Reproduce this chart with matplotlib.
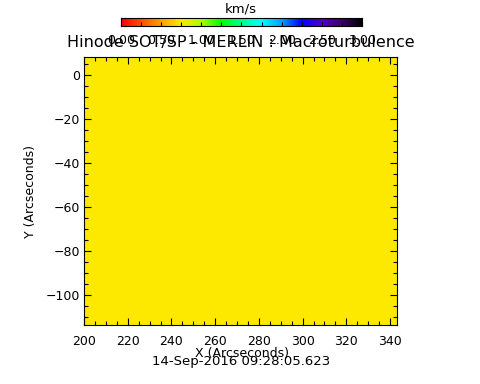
import numpy as np
import matplotlib
matplotlib.use('Agg')
import matplotlib.pyplot as plt
from matplotlib.colors import LinearSegmentedColormap
from matplotlib.ticker import MultipleLocator

# map extent (arcsec) and the (uniform) macroturbulence value in km/s
x_range = [200.0, 343.2]
y_range = [-113.6, 8.2]
macro_value = 0.75
macro_map = np.full((20, 20), macro_value)

# colour table sampled from the colour bar
cbar_vals = [0.0, 0.25, 0.5, 0.75, 1.0, 1.25, 1.5, 1.75, 2.0, 2.25, 2.5, 2.75, 3.0]
cbar_cols = ['#ff0000', '#ff5000', '#ffa000', '#ffe800', '#a8ff00', '#00ff00',
             '#00ff8c', '#00ffff', '#00a0ff', '#0000ff', '#5000c8', '#3c006e', '#000000']
cbar_ticks = [0.0, 0.5, 1.0, 1.5, 2.0, 2.5, 3.0]

title = 'Hinode SOT/SP - MERLIN : Macroturbulence'
date_str = '14-Sep-2016 09:28:05.623'

W, H = 481, 384
cmap = LinearSegmentedColormap.from_list(
    'idl', [(v / 3.0, c) for v, c in zip(cbar_vals, cbar_cols)])

plt.rcParams['font.family'] = 'DejaVu Sans'
plt.rcParams['font.size'] = 9

fig = plt.figure(figsize=(W / 100, H / 100), dpi=100)

ax = fig.add_axes([84 / W, (H - 325) / H, 313 / W, 268 / H])
ax.imshow(macro_map, cmap=cmap, vmin=0, vmax=3, origin='lower', aspect='auto',
          extent=[x_range[0], x_range[1], y_range[0], y_range[1]],
          interpolation='nearest')
ax.set_xlim(x_range)
ax.set_ylim(y_range)
ax.xaxis.set_major_locator(MultipleLocator(20))
ax.xaxis.set_minor_locator(MultipleLocator(5))
ax.yaxis.set_major_locator(MultipleLocator(20))
ax.yaxis.set_minor_locator(MultipleLocator(5))
ax.tick_params(which='both', direction='in', top=True, right=True, width=0.8)
ax.tick_params(which='major', length=5)
ax.tick_params(which='minor', length=2.8)
ax.tick_params(axis='x', which='major', pad=7)
ax.tick_params(axis='y', which='major', pad=3)
for s in ax.spines.values():
    s.set_linewidth(0.8)
ax.set_ylabel('Y (Arcseconds)', labelpad=6)
fig.text(242 / W, 1 - 353 / H, 'X (Arcseconds)', ha='center', va='center', fontsize=9)
fig.text(241 / W, 1 - 361 / H, date_str, ha='center', va='center', fontsize=9.5)

cax = fig.add_axes([121 / W, (H - 26) / H, 241 / W, 8 / H])
grad = np.linspace(0, 3, 256).reshape(1, -1)
cax.imshow(grad, cmap=cmap, vmin=0, vmax=3, aspect='auto', extent=[0, 3, 0, 1])
cax.set_xlim(0, 3)
cax.set_yticks([])
cax.set_xticks(cbar_ticks)
cax.set_xticklabels(['%.2f' % t for t in cbar_ticks])
cax.xaxis.set_minor_locator(MultipleLocator(0.25))
cax.tick_params(which='both', direction='in', length=3, width=0.8, pad=6)
for s in cax.spines.values():
    s.set_linewidth(0.8)

fig.text(241 / W, 1 - 9 / H, 'km/s', ha='center', va='center', fontsize=9.5)
fig.text(240.5 / W, 1 - 43 / H, title, ha='center', va='center', fontsize=11.5)

fig.savefig('out.png', dpi=100)
